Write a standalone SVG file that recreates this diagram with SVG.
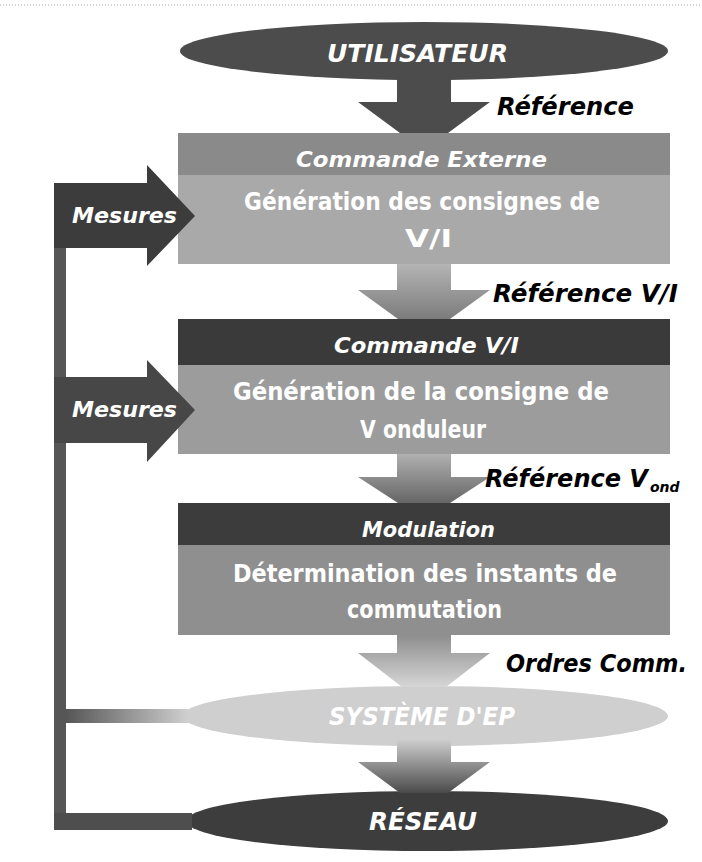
<svg xmlns="http://www.w3.org/2000/svg" width="702" height="862" viewBox="0 0 702 862">
  <defs>
    <style>
      text { font-family: "DejaVu Sans", "Liberation Sans", sans-serif; font-weight: bold; }
      .lbl { font-style: italic; fill: #000; font-size: 24px; }
      .hd  { font-style: italic; fill: #fff; font-size: 22px; }
      .bd  { fill: #fff; font-size: 24px; }
      .el  { font-style: italic; fill: #fff; font-size: 24px; }
      .ms  { font-style: italic; fill: #fff; font-size: 22px; }
    </style>
    <linearGradient id="g2" x1="0" y1="0" x2="0" y2="1">
      <stop offset="0" stop-color="#b4b4b4"/>
      <stop offset="1" stop-color="#7c7c7c"/>
    </linearGradient>
    <linearGradient id="g3" x1="0" y1="0" x2="0" y2="1">
      <stop offset="0" stop-color="#b0b0b0"/>
      <stop offset="1" stop-color="#666"/>
    </linearGradient>
    <linearGradient id="g4" x1="0" y1="0" x2="0" y2="1">
      <stop offset="0" stop-color="#8e8e8e"/>
      <stop offset="1" stop-color="#d6d6d6"/>
    </linearGradient>
    <linearGradient id="g5" x1="0" y1="0" x2="0" y2="1">
      <stop offset="0" stop-color="#d2d2d2"/>
      <stop offset="1" stop-color="#4a4a4a"/>
    </linearGradient>
    <linearGradient id="gsys" x1="0" y1="0" x2="1" y2="0">
      <stop offset="0" stop-color="#565656"/>
      <stop offset="1" stop-color="#cfcfcf"/>
    </linearGradient>
  </defs>

  <!-- dotted rule along the top -->
  <line x1="0" y1="5" x2="702" y2="5" stroke="#aaa" stroke-width="1" stroke-dasharray="1 2"/>

  <g id="utilisateur">
    <ellipse cx="424" cy="51" rx="244" ry="29" fill="#4c4c4c"/>
    <text class="el" x="327" y="62" textLength="181" lengthAdjust="spacingAndGlyphs">UTILISATEUR</text>
  </g>

  <g id="commande-externe">
    <rect x="178" y="133" width="492" height="42" fill="#8a8a8a"/>
    <rect x="178" y="175" width="492" height="89" fill="#a9a9a9"/>
    <text class="hd" x="296" y="167" textLength="251" lengthAdjust="spacingAndGlyphs">Commande Externe</text>
    <text class="bd" x="244" y="210" textLength="356" lengthAdjust="spacingAndGlyphs">Génération des consignes de</text>
    <text class="bd" x="405" y="247" textLength="47" lengthAdjust="spacingAndGlyphs">V/I</text>
  </g>

  <g id="commande-vi">
    <rect x="178" y="319" width="492" height="46" fill="#3a3a3a"/>
    <rect x="178" y="365" width="492" height="89" fill="#9c9c9c"/>
    <text class="hd" x="334" y="353" textLength="185" lengthAdjust="spacingAndGlyphs">Commande V/I</text>
    <text class="bd" x="233" y="400" textLength="376" lengthAdjust="spacingAndGlyphs">Génération de la consigne de</text>
    <text class="bd" x="360" y="438" textLength="126" lengthAdjust="spacingAndGlyphs">V onduleur</text>
  </g>

  <g id="modulation">
    <rect x="178" y="503" width="492" height="42" fill="#3c3c3c"/>
    <rect x="178" y="545" width="492" height="90" fill="#8f8f8f"/>
    <text class="hd" x="362" y="537" textLength="133" lengthAdjust="spacingAndGlyphs">Modulation</text>
    <text class="bd" x="233" y="582" textLength="384" lengthAdjust="spacingAndGlyphs">Détermination des instants de</text>
    <text class="bd" x="347" y="618" textLength="155" lengthAdjust="spacingAndGlyphs">commutation</text>
  </g>

  <g id="systeme-ep">
    <ellipse cx="425" cy="716" rx="243" ry="30" fill="#cfcfcf"/>
    <text class="el" x="329" y="725" textLength="186" lengthAdjust="spacingAndGlyphs">SYSTÈME D'EP</text>
  </g>

  <g id="reseau">
    <ellipse cx="427" cy="821" rx="241" ry="30" fill="#3d3d3d"/>
    <text class="el" x="369" y="830" textLength="108" lengthAdjust="spacingAndGlyphs">RÉSEAU</text>
  </g>

  <g id="connectors">
    <!-- downward flow arrows -->
    <path d="M397,76 H451 V102 H490 L448,133 H400 L358,102 H397 Z" fill="#4c4c4c"/>
    <path d="M397,264 H451 V290 H490 L450,319 H398 L358,290 H397 Z" fill="url(#g2)"/>
    <path d="M397,454 H451 V477 H490 L450,503 H398 L358,477 H397 Z" fill="url(#g3)"/>
    <path d="M397,635 H451 V653 H490 L446,687 H402 L358,653 H397 Z" fill="url(#g4)"/>
    <path d="M397,738 H451 V762 H490 L448,793 H400 L358,762 H397 Z" fill="url(#g5)"/>

    <!-- flow labels -->
    <text class="lbl" x="497" y="115" textLength="137" lengthAdjust="spacingAndGlyphs">Référence</text>
    <text class="lbl" x="493" y="302" textLength="185" lengthAdjust="spacingAndGlyphs">Référence V/I</text>
    <text class="lbl" x="485" y="487" font-size="21.5">Référence V<tspan font-size="14" dx="2" dy="5">ond</tspan></text>
    <text class="lbl" x="506" y="672" textLength="181" lengthAdjust="spacingAndGlyphs">Ordres Comm.</text>

    <!-- measurement feedback path -->
    <rect x="54" y="183" width="12" height="647" fill="#565656"/>
    <rect x="66" y="709" width="122" height="14" fill="url(#gsys)"/>
    <rect x="54" y="813" width="138" height="17" fill="#4e4e4e"/>

    <path d="M54,183 H147 V165 L195,216 L147,266 V248 H54 Z" fill="#3c3c3c"/>
    <path d="M54,377 H147 V360 L195,410 L147,462 V443 H54 Z" fill="#474747"/>
    <text class="ms" x="72" y="223" textLength="105" lengthAdjust="spacingAndGlyphs">Mesures</text>
    <text class="ms" x="72" y="417" textLength="105" lengthAdjust="spacingAndGlyphs">Mesures</text>
  </g>
</svg>
